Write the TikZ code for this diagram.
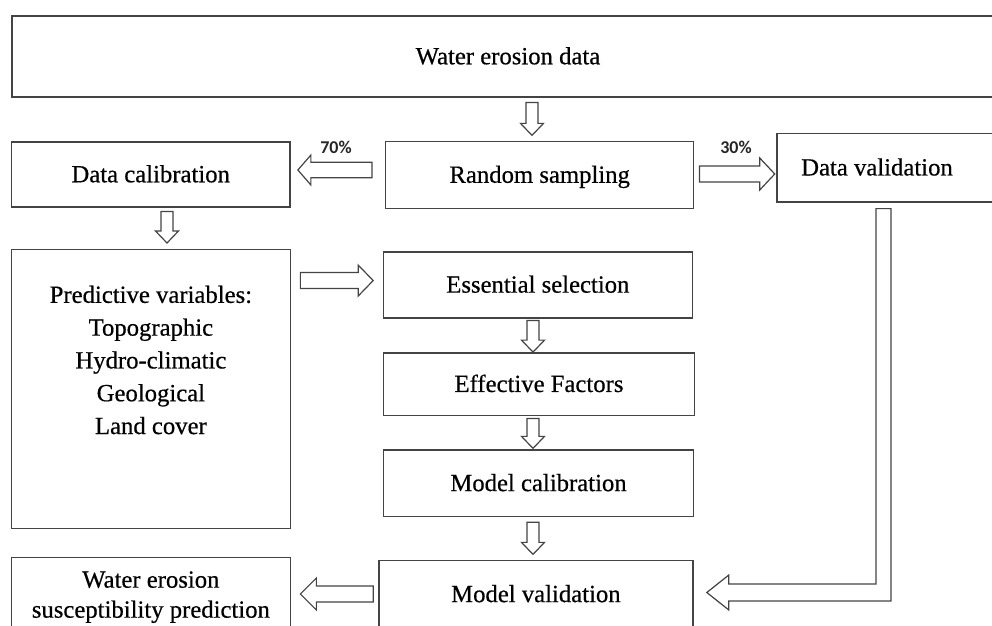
\documentclass[tikz,border=0pt]{standalone}
\usepackage{fontspec}
\setmainfont{Liberation Serif}
\newfontfamily\bodyfont{Liberation Serif}[FakeBold=0.5]
\newfontfamily\lblfont{Carlito}
\usetikzlibrary{calc}
\definecolor{ln}{HTML}{444444}
\tikzset{
  box/.style={draw=ln, line width=1.4bp, rectangle, inner sep=0pt,
    font=\bodyfont\fontsize{24.7bp}{32.8bp}\selectfont, text=black},
  oneline/.style={text height=0.66em+9bp, text depth=0pt},
  blk/.style={draw=ln, line width=1.2bp, fill=white, line join=miter},
  pct/.style={font=\lblfont\bfseries\fontsize{18bp}{20bp}\selectfont, text=black!85, inner sep=0pt}
}
% vertical hollow arrow: start #1, tip #2, shaft half #3, head half #4, signed head length #5
\newcommand{\arrv}[5]{%
  \draw[blk] let \p1=(#1), \p2=(#2) in
  ({\x1-#3},\y1) -- ({\x1-#3},{\y2+(#5)}) -- ({\x1-#4},{\y2+(#5)}) -- (\x1,\y2)
  -- ({\x1+#4},{\y2+(#5)}) -- ({\x1+#3},{\y2+(#5)}) -- ({\x1+#3},\y1) -- cycle;}
% horizontal hollow arrow
\newcommand{\arrh}[5]{%
  \draw[blk] let \p1=(#1), \p2=(#2) in
  (\x1,{\y1+#3}) -- ({\x2+(#5)},{\y1+#3}) -- ({\x2+(#5)},{\y1+#4}) -- (\x2,\y1)
  -- ({\x2+(#5)},{\y1-#4}) -- ({\x2+(#5)},{\y1-#3}) -- (\x1,{\y1-#3}) -- cycle;}
\begin{document}
\begin{tikzpicture}[x=1bp,y=-1bp]
\useasboundingbox (0,0) rectangle (992,626);
\clip (0,0) rectangle (992,626);

\node[box, oneline, minimum width=996, minimum height=81] (top) at (508,56.5) {Water erosion data};
\node[box, oneline, minimum width=280, minimum height=65] (dc) at (150.7,174.5) {Data calibration};
\node[box, oneline, minimum width=309.3, minimum height=66.7] (rs) at (539.7,175) {Random sampling};
\node[box, oneline, minimum width=240.3, minimum height=68.7] (dv) at (896.85,167.7) {Data validation\hspace*{39.7bp}};
\node[box, anchor=north west, minimum width=280, minimum height=279] (pv) at (10.7,249)
  {\begin{minipage}[c][279bp][t]{278bp}\centering\fontsize{24.7bp}{32.8bp}\selectfont
   \vspace*{36bp}Predictive variables:\\Topographic\\Hydro-climatic\\Geological\\Land cover\end{minipage}};
\node[box, oneline, minimum width=310.3, minimum height=66.3] (es) at (537.85,284.85) {Essential selection};
\node[box, oneline, minimum width=312, minimum height=63] (ef) at (539,384.2) {Effective Factors};
\node[box, oneline, minimum width=311, minimum height=66.7] (mc) at (538.5,483.3) {Model calibration};
\node[box, oneline, minimum width=315.2, minimum height=67.3] (mv) at (535.9,594.3) {Model validation};
\node[box, anchor=north west, minimum width=280, minimum height=71] (we) at (10.7,557)
  {\begin{minipage}[c][71bp][t]{278bp}\centering\fontsize{24.7bp}{30bp}\selectfont
   \vspace*{13.6bp}Water erosion\\susceptibility prediction\end{minipage}};

% connectors (hollow block arrows)
\arrv{$(top.south -| rs.north)+(-7.7,5)$}{$(rs.north)+(-7.7,-5.7)$}{6bp}{11.5bp}{12bp}
\arrh{$(rs.west)+(-13,-5)$}{$(dc.east)+(7,0)$}{7.7bp}{15bp}{13bp}
\arrh{$(rs.east)+(5,-1)$}{$(dv.west)+(-1.7,0)$}{8bp}{16bp}{-15bp}
\arrv{$(dc.south)+(16.3,4)$}{$(pv.north)+(16.3,-6)$}{6bp}{11.5bp}{12bp}
\arrh{$(pv.east |- es.west)+(9.3,-4.3)$}{$(es.west)+(-9.4,0)$}{8bp}{15.5bp}{-15bp}
\arrv{$(es.south)+(-4.85,2)$}{$(ef.north)+(-6,0)$}{6bp}{11.5bp}{12bp}
\arrv{$(ef.south)+(-6,2.3)$}{$(mc.north)+(0,-1)$}{6bp}{11.5bp}{12bp}
\arrv{$(mc.south)+(-5.5,5)$}{$(mv.north)+(0,-5.7)$}{6bp}{11.5bp}{12bp}
\arrh{$(mv.west)+(-5,-0.3)$}{$(we.east |- mv.west)+(9.3,0)$}{8bp}{16bp}{16bp}
% L-shaped arrow from Data validation to Model validation
\draw[blk] let \p1=($(dv.south)+(-13.35,6)$), \p2=($(mv.east)+(13.2,-1.8)$) in
  ({\x1-7.5bp},\y1) -- ({\x1+7.5bp},\y1) -- ({\x1+7.5bp},{\y2-8.5bp}) -- ({\x2+22bp},{\y2-8.5bp})
  -- ({\x2+22bp},{\y2-17.5bp}) -- (\x2,\y2) -- ({\x2+22bp},{\y2+17.5bp}) -- ({\x2+22bp},{\y2+8.5bp})
  -- ({\x1-7.5bp},{\y2+8.5bp}) -- cycle;

% percentage labels
\node[pct] (p70) at (336,147.5) {70\%};
\node[pct] (p30) at (736,147.5) {30\%};
\end{tikzpicture}
\end{document}
